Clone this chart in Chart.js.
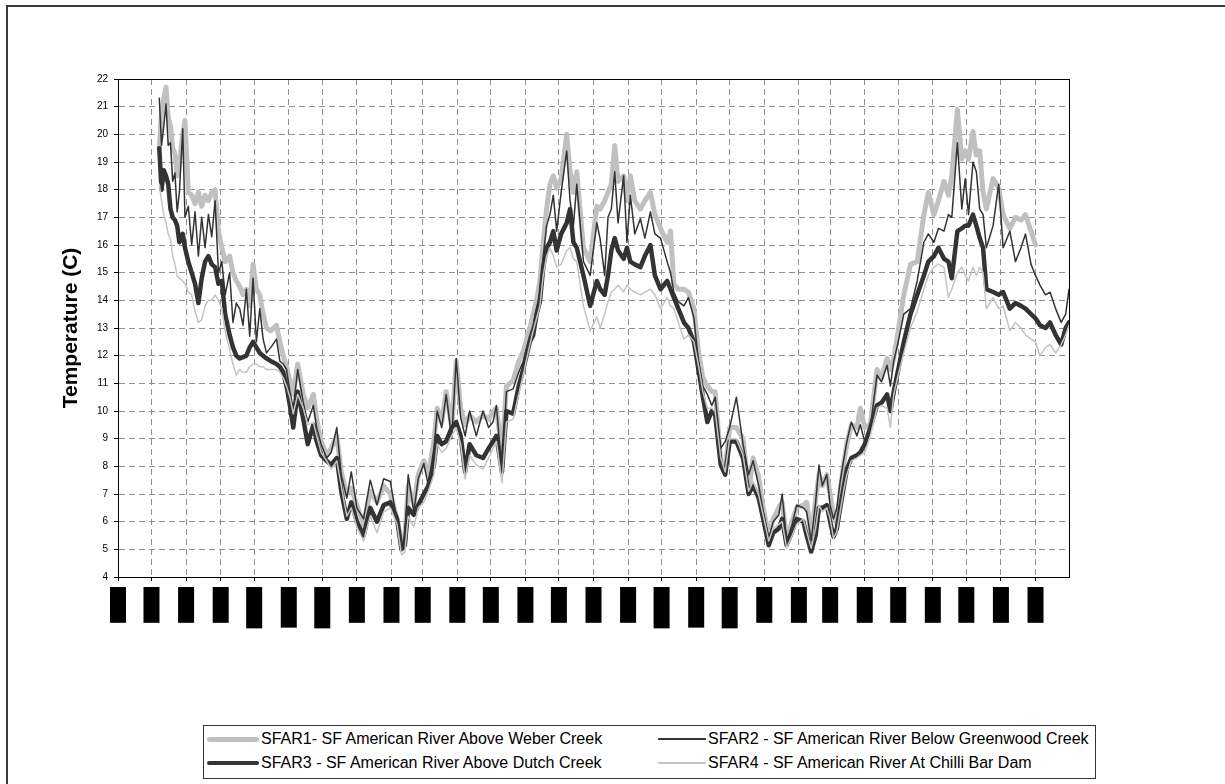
<!DOCTYPE html>
<html>
<head>
<meta charset="utf-8">
<title>SF American River water temperature</title>
<script src="https://cdn.jsdelivr.net/npm/chart.js@4.4.0/dist/chart.umd.min.js"></script>
<style>
html, body { margin: 0; padding: 0; background: #fff; overflow: hidden; }
#wrap { position: relative; width: 1225px; height: 784px; }
#frame { position: absolute; left: 6px; top: 5px; width: 1400px; height: 900px;
         border-left: 2px solid #3a3a3a; border-top: 2px solid #3a3a3a; }
#temp_chart { position: absolute; left: 0; top: 0; }
#legend { position: absolute; left: 203px; top: 725px; width: 893px; height: 54px;
          box-sizing: border-box; border: 1px solid #333; background: #fff;
          font-family: Arial, "Liberation Sans", sans-serif; font-size: 16px; color: #000; }
.item { position: absolute; height: 20px; display: flex; align-items: center; white-space: nowrap; }
.sample { margin-right: 2px; }
</style>
</head>
<body>
<div id="wrap">
  <div id="frame"></div>
  <canvas id="temp_chart" width="1225" height="784"></canvas>
  <div id="legend"></div>
</div>
<script>
// day numbers counted from 1 June 2005 (day 0)
const days = [37, 39, 41, 43, 45, 47, 49, 51, 53, 55, 58, 60, 63, 66, 69, 72, 75, 78, 81, 84, 87, 90,
  93, 96, 100, 103, 106, 109, 112, 115, 118, 121, 124, 127, 130, 133, 137, 142, 145, 148, 151, 154,
  157, 161, 166, 170, 175, 178, 182, 187, 191, 196, 200, 205, 209, 214, 220, 226, 232, 238, 244,
  250, 254, 257, 260, 265, 269, 274, 278, 283, 286, 290, 294, 299, 303, 307, 311, 315, 321, 327, 332,
  336, 339, 344, 348, 354, 359, 363, 369, 372, 375, 378, 381, 384, 387, 390, 393, 397, 402, 405, 408,
  411, 417, 423, 429, 432, 436, 439, 442, 445, 448, 453, 456, 459, 463, 468, 472, 477, 481, 486,
  492, 495, 498, 502, 507, 511, 516, 520, 524, 528, 532, 535, 540, 544, 548, 554, 560, 565, 569, 574,
  578, 583, 587, 592, 595, 599, 604, 608, 614, 617, 621, 625, 628, 631, 635, 638, 641, 644, 647, 650,
  653, 657, 662, 665, 669, 674, 680, 684, 689, 692, 695, 699, 704, 710, 716, 722, 726, 731, 735, 740,
  744, 747, 752, 756, 759, 762, 766, 769, 772, 775, 778, 784, 789, 793, 799, 804, 809, 813, 818, 822,
  826, 831, 835, 840, 845, 849, 852]

const sfar1 = [19.5, 20.8, 21.3, 21.7, 20.6, 20.3, 19.5, 19.3, 18.5, 18.9, 20.0, 20.5, 17.9, 17.8, 17.5, 17.9, 17.4, 17.8, 17.6, 17.9, 18.0, 16.5,
  15.9, 15.4, 15.6, 15.0, 14.7, 14.5, 14.2, 14.4, 13.8, 15.3, 14.4, 14.2, 13.5, 13.0, 12.9, 13.1, 12.5, 12.0, 11.6, 11.1,
  10.6, 11.7, 10.6, 10.1, 10.6, 9.7, 8.9, 8.4, 8.65, 9.1, 7.8, 7.0, 7.2, 6.6, 5.9, 7.1, 6.7, 7.3, 7.0,
  6.1, 5.3, 5.4, 7.3, 6.6, 7.7, 8.2, 7.7, 8.9, 10.1, 9.6, 10.7, 9.4, 11.8, 10.1, 9.5, 9.85, 9.6, 9.85, 9.7,
  9.98, 10.1, 8.5, 10.9, 11.1, 11.8, 12.15, 13.0, 13.5, 14.0, 14.7, 16.1, 17.3, 18.2, 18.5, 18.05, 18.4, 20.0, 18.65, 17.9,
  18.65, 15.9, 15.4, 17.4, 17.3, 17.6, 17.9, 18.2, 19.6, 18.3, 18.5, 17.6, 18.5, 17.6, 17.3, 17.6, 17.9, 17.1, 16.6,
  16.1, 16.5, 14.6, 14.4, 14.4, 14.3, 13.7, 12.15, 11.2, 10.9, 10.7, 10.7, 8.2, 7.95, 9.4, 9.4, 9.0, 7.1, 8.3, 7.6,
  6.5, 5.5, 6.1, 6.5, 6.7, 5.4, 6.0, 6.5, 6.6, 6.7, 5.4, 6.8, 7.7, 7.3, 7.7, 7.0, 6.2, 5.9, 7.1, 8.05,
  8.8, 9.5, 9.4, 10.1, 9.4, 9.5, 11.5, 11.2, 11.9, 11.5, 11.9, 12.9, 14.2, 15.3, 15.4, 17.1, 17.9, 17.1, 17.6, 18.3,
  17.8, 18.5, 20.9, 19.1, 19.4, 19.1, 20.1, 19.25, 19.4, 17.9, 17.3, 18.4, 18.05, 17.1, 16.6, 17.0, 16.9, 17.1, 16.5, 16.0,
  null, null, null, null, null, null, null]

const sfar2 = [21.3, 19.6, 20.3, 21.1, 19.6, 19.7, 18.3, 18.6, 17.2, 17.9, 20.2, 17.0, 17.4, 16.0, 17.2, 15.6, 17.0, 15.9, 17.1, 16.3, 17.6, 15.0,
  15.4, 14.2, 15.0, 13.2, 13.9, 13.7, 13.1, 14.4, 12.7, 14.8, 12.5, 13.7, 12.6, 12.1, 12.3, 12.6, 11.8, 11.7, 11.5, 10.7,
  10.1, 11.5, 10.3, 9.6, 10.2, 9.4, 8.8, 8.3, 8.5, 9.4, 7.7, 6.85, 7.8, 6.5, 6.1, 7.5, 6.6, 7.55, 7.45,
  6.0, 5.0, 5.5, 7.7, 6.35, 7.55, 8.1, 7.3, 8.65, 10.0, 9.4, 10.6, 9.0, 11.9, 9.75, 9.1, 10.0, 9.1, 10.0, 9.4,
  9.6, 10.2, 7.8, 10.7, 10.8, 11.4, 11.8, 12.75, 13.1, 13.7, 14.3, 15.6, 16.7, 17.1, 17.8, 16.5, 17.9, 19.4, 17.6, 16.7,
  18.2, 15.4, 14.9, 16.8, 16.2, 14.9, 17.0, 17.3, 18.65, 16.8, 18.5, 16.1, 17.8, 16.4, 16.95, 16.25, 17.2, 16.4, 16.25,
  15.4, 15.0, 14.3, 13.95, 13.8, 14.1, 13.35, 11.8, 10.9, 10.6, 10.2, 10.5, 8.65, 8.9, 9.4, 10.5, 8.8, 7.7, 8.2, 7.3,
  6.4, 5.4, 6.0, 6.24, 7.0, 5.3, 5.9, 6.6, 6.5, 6.36, 5.3, 6.7, 8.05, 7.3, 7.7, 6.6, 6.1, 6.5, 7.45, 8.2,
  8.9, 9.6, 9.1, 9.5, 8.9, 9.4, 11.3, 11.05, 11.65, 10.9, 11.8, 12.5, 13.5, 13.7, 14.7, 16.1, 16.4, 16.1, 16.6, 16.5,
  17.1, 17.0, 19.7, 17.3, 18.4, 17.1, 19.0, 18.65, 17.3, 17.1, 15.9, 16.7, 18.2, 15.9, 16.5, 15.4, 15.9, 16.4, 15.3, 14.9,
  14.55, 14.2, 14.3, 13.7, 13.2, 13.5, 14.4]

const sfar3 = [19.5, 18.0, 18.7, 18.5, 18.2, 17.3, 17.0, 16.9, 16.7, 16.1, 16.4, 15.9, 15.4, 15.0, 14.6, 13.9, 14.8, 15.4, 15.6, 15.3, 15.2, 14.6,
  14.7, 13.5, 12.75, 12.3, 12.0, 11.9, 11.95, 12.0, 12.3, 12.5, 12.3, 12.1, 12.0, 11.9, 11.8, 11.7, 11.6, 11.4, 10.9, 10.2,
  9.4, 10.7, 9.7, 8.8, 9.5, 8.9, 8.4, 8.2, 8.05, 8.3, 7.1, 6.1, 6.7, 6.0, 5.5, 6.5, 6.0, 6.6, 6.7,
  6.1, 5.0, 5.15, 6.5, 6.25, 6.6, 7.0, 7.3, 8.05, 9.1, 8.8, 8.9, 9.4, 9.6, 9.1, 7.8, 8.8, 8.4, 8.3, 8.65,
  8.9, 9.1, 7.8, 10.0, 9.9, 10.9, 11.5, 12.5, 12.75, 13.5, 13.95, 15.2, 15.9, 16.1, 16.5, 15.8, 16.4, 16.8, 17.3, 16.1,
  15.9, 14.9, 13.8, 14.7, 14.4, 14.2, 14.9, 15.8, 16.25, 15.8, 15.5, 15.9, 15.4, 15.3, 15.2, 15.6, 16.0, 14.9, 14.4,
  14.7, 14.4, 14.1, 13.7, 13.2, 13.0, 12.5, 11.5, 10.5, 9.6, 10.0, 9.86, 8.05, 7.7, 8.9, 8.9, 8.3, 7.0, 7.3, 6.85,
  6.1, 5.15, 5.6, 5.75, 6.1, 5.15, 5.64, 6.1, 6.0, 5.5, 4.92, 5.5, 6.5, 6.5, 6.6, 6.0, 5.45, 5.75, 6.5, 7.2,
  7.9, 8.3, 8.4, 8.5, 8.8, 9.4, 10.2, 10.3, 10.6, 10.0, 10.7, 11.5, 12.5, 13.5, 14.2, 14.9, 15.4, 15.6, 15.9, 15.5,
  15.4, 14.8, 16.5, 16.6, 16.7, 16.7, 17.1, 16.7, 16.25, 15.9, 14.4, 14.3, 14.2, 14.3, 13.7, 13.9, 13.8, 13.7, 13.5, 13.35,
  13.1, 13.0, 13.2, 12.75, 12.4, 13.0, 13.2]

const sfar4 = [18.2, 17.6, 17.1, 16.8, 16.4, 16.2, 15.6, 15.3, 14.9, 14.8, 14.7, 14.6, 14.3, 14.2, 13.6, 13.2, 13.3, 13.8, 14.0, 14.0, 14.2, 14.0,
  13.7, 12.9, 12.2, 11.7, 11.3, 11.5, 11.4, 11.4, 11.6, 11.7, 11.7, 11.6, 11.6, 11.5, 11.5, 11.5, 11.4, 11.2, 10.9, 10.5,
  9.9, 10.6, 10.1, 9.5, 9.6, 9.1, 8.5, 8.2, 7.9, 8.2, 7.3, 6.2, 6.5, 5.8, 5.3, 6.2, 5.6, 6.35, 6.5,
  5.9, 4.8, 4.9, 6.2, 5.8, 6.5, 6.7, 7.1, 7.7, 8.8, 8.5, 8.65, 9.1, 9.4, 8.8, 7.55, 8.4, 8.05, 7.9, 8.3,
  8.65, 8.9, 7.4, 9.6, 9.7, 10.6, 11.3, 12.4, 12.9, 13.35, 13.8, 14.9, 15.6, 15.9, 15.6, 15.2, 15.3, 15.8, 15.9, 15.5,
  15.4, 13.8, 12.9, 13.4, 13.0, 13.5, 13.95, 14.3, 14.4, 14.55, 14.3, 14.55, 14.4, 14.3, 14.2, 14.3, 14.4, 14.2, 13.7,
  14.1, 13.8, 13.7, 13.2, 12.6, 12.75, 12.5, 11.65, 10.7, 10.1, 10.1, 9.98, 8.3, 7.8, 9.0, 9.0, 8.4, 7.1, 7.45, 6.96,
  6.24, 5.3, 5.76, 5.9, 6.0, 5.04, 5.5, 5.9, 6.1, 5.64, 5.04, 5.76, 6.6, 6.36, 6.5, 6.1, 5.4, 5.64, 6.36, 7.1,
  7.7, 8.2, 8.3, 8.4, 8.5, 9.1, 10.1, 10.2, 10.1, 9.4, 10.6, 11.3, 12.1, 13.0, 13.6, 14.4, 14.9, 15.2, 15.3, 15.2,
  14.1, 14.4, 15.0, 15.2, 14.9, 14.7, 15.2, 14.9, 15.2, 15.0, 13.7, 14.1, 13.7, 13.8, 12.9, 13.2, 13.0, 12.75, 12.6, 12.5,
  12.0, 12.3, 12.4, 12.1, 12.4, 12.75, 13.1]

// first of each month, Jun 2005 .. Sep 2007
const month_days = [0, 30, 61, 92, 122, 153, 183, 214, 245, 273, 304, 334, 365, 395, 426, 457, 487, 518,
  548, 579, 610, 638, 669, 699, 730, 760, 791, 822]
const month_labels = ['6/1/05', '7/1/05', '8/1/05', '9/1/05', '10/1/05', '11/1/05', '12/1/05', '1/1/06',
  '2/1/06', '3/1/06', '4/1/06', '5/1/06', '6/1/06', '7/1/06', '8/1/06', '9/1/06', '10/1/06', '11/1/06',
  '12/1/06', '1/1/07', '2/1/07', '3/1/07', '4/1/07', '5/1/07', '6/1/07', '7/1/07', '8/1/07', '9/1/07']

const series_names = [
  'SFAR1- SF American River Above Weber Creek',
  'SFAR2 - SF American River Below Greenwood Creek',
  'SFAR3 - SF American River Above Dutch Creek',
  'SFAR4 - SF American River At Chilli Bar Dam'
]
const series_values = [sfar1, sfar2, sfar3, sfar4]

const line_colors = ['#c0c0c0', '#333333', '#333333', '#c4c4c4']
const line_widths = [5, 1.5, 4.5, 1.5]

const font_family = 'Arial, "Liberation Sans", sans-serif'
const grid_gray = '#909090'
const clear = 'rgba(0,0,0,0)'

let datasets = series_values.map((vals, i) => ({
  label: series_names[i],
  data: days.map((d, j) => ({ x: d, y: vals[j] })),
  borderColor: line_colors[i],
  borderWidth: line_widths[i],
  borderJoinStyle: 'round',
  borderCapStyle: 'round',
  pointRadius: 0,
  tension: 0,
  fill: false,
  // excel draws the first series at the bottom
  order: 4 - i
}))

const ctx = document.getElementById('temp_chart').getContext('2d')

let temp_chart = new Chart(ctx, {
  type: 'line',
  data: { datasets: datasets },
  options: {
    responsive: false,
    animation: false,
    devicePixelRatio: 1,
    layout: { padding: { left: 59, top: 79, right: 156, bottom: 0 } },
    plugins: {
      legend: { display: false },
      tooltip: { enabled: false }
    },
    scales: {
      x: {
        type: 'linear',
        min: 0,
        max: 852,
        afterBuildTicks: (axis) => {
          axis.ticks = month_days.map(d => ({ value: d }))
        },
        afterFit: (axis) => { axis.height = 207 },
        grid: {
          color: (c) => (c.tick && c.tick.value === 0) ? clear : grid_gray,
          lineWidth: 1,
          tickColor: '#000',
          tickLength: 4
        },
        border: { color: '#000', width: 1, dash: [6, 4] },
        ticks: {
          autoSkip: false,
          minRotation: 90,
          maxRotation: 90,
          padding: 10,
          labelOffset: -6,
          color: '#000',
          font: { family: font_family, size: 10 },
          showLabelBackdrop: true,
          backdropColor: '#000',
          backdropPadding: { top: 2, bottom: 2, left: 4, right: 4 },
          callback: (value, index) => month_labels[index]
        }
      },
      y: {
        min: 4,
        max: 22,
        afterFit: (axis) => { axis.width = 59 },
        grid: {
          color: (c) => {
            if (!c.tick) return grid_gray
            if (c.tick.value === 4) return clear
            if (c.tick.value === 22) return '#000'
            return grid_gray
          },
          lineWidth: 1,
          tickColor: '#000',
          tickLength: 4
        },
        border: {
          color: '#000',
          width: 1,
          dash: (c) => (c.tick && c.tick.value === 22) ? [] : [6, 4]
        },
        ticks: {
          stepSize: 1,
          padding: 6,
          color: '#000',
          font: { family: font_family, size: 10 }
        },
        title: {
          display: true,
          text: 'Temperature (C)',
          color: '#000',
          padding: 0,
          font: { family: font_family, size: 21, weight: 'bold' }
        }
      },
      // only there to draw the right edge of the plot area
      y_right: {
        position: 'right',
        min: 4,
        max: 22,
        afterFit: (axis) => { axis.width = 0 },
        ticks: { display: false },
        grid: { drawOnChartArea: false, drawTicks: false },
        border: { color: '#000', width: 1 }
      }
    }
  }
})

// legend: two columns inside a box, like the spreadsheet one
const legend_div = document.getElementById('legend')
const col_left = [3, 454]
const sample_len = [52, 48]
const row_mid = [13, 37]
series_names.forEach((name, i) => {
  const col = i % 2
  const row = Math.floor(i / 2)
  const item = document.createElement('div')
  item.className = 'item'
  item.style.left = col_left[col] + 'px'
  item.style.top = (row_mid[row] - 10) + 'px'
  const sample = document.createElement('span')
  sample.className = 'sample'
  sample.style.width = sample_len[col] + 'px'
  sample.style.height = line_widths[i] + 'px'
  sample.style.background = line_colors[i]
  sample.style.borderRadius = (line_widths[i] / 2) + 'px'
  const text = document.createElement('span')
  text.textContent = name
  item.appendChild(sample)
  item.appendChild(text)
  legend_div.appendChild(item)
})
</script>
</body>
</html>
